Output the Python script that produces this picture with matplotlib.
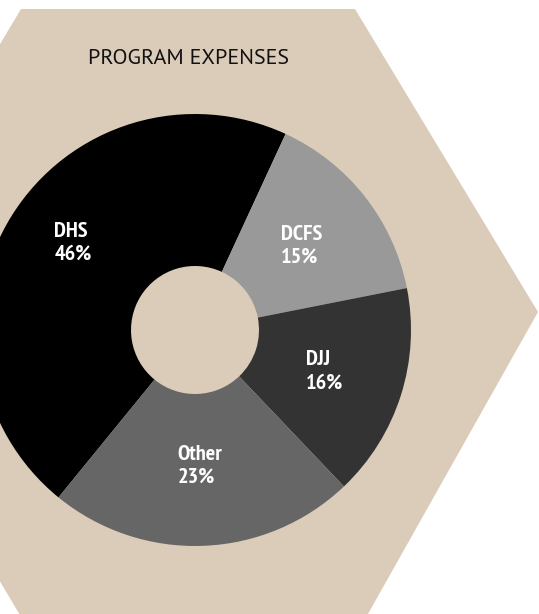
import matplotlib
matplotlib.use("Agg")
import matplotlib.pyplot as plt
import numpy as np
from matplotlib.patches import Polygon

# Share of program expenses by department
departments = ["DHS", "DCFS", "DJJ", "Other"]
shares = [46, 15, 16, 23]
wedge_colors = ["#000000", "#999999", "#333333", "#666666"]
title = "PROGRAM EXPENSES"

tan = "#dbccb9"
width_px, height_px = 539, 614

fig = plt.figure(figsize=(width_px / 100, height_px / 100), dpi=100)
ax = fig.add_axes([0, 0, 1, 1])


def flip(points):
    """Pixel rows count downwards; the axes count upwards."""
    return [(x, height_px - y) for x, y in points]


# Hexagon backdrop, running off the left and bottom edges
hexagon = Polygon(
    flip([(538, 312), (355, 9), (21, 9), (-160, 312), (33, 637), (355, 637)]),
    closed=True,
    facecolor=tan,
    edgecolor="none",
    zorder=0,
)
ax.add_patch(hexagon)

center = (195, height_px - 330)
outer_r, inner_r = 216, 64
wedges, _ = ax.pie(
    shares,
    colors=wedge_colors,
    startangle=230.8,
    counterclock=False,
    center=center,
    radius=outer_r,
    wedgeprops={"width": outer_r - inner_r, "edgecolor": "none"},
    frame=True,
)
ax.set_xlim(0, width_px)
ax.set_ylim(0, height_px)
ax.set_aspect("equal")
ax.axis("off")

label_radius = {"DHS": 150}
label_shift = {"DHS": -3.5}
for wedge, name, share in zip(wedges, departments, shares):
    mid = np.deg2rad((wedge.theta1 + wedge.theta2) / 2 + label_shift.get(name, 0))
    r = label_radius.get(name, 136)
    x = center[0] + r * np.cos(mid)
    y = center[1] + r * np.sin(mid)
    ax.text(
        x, y, f"{name}\n{share}%",
        ha="center", va="center", multialignment="left",
        color="white", fontsize=16, fontweight="bold",
        family="PT Sans Narrow", linespacing=1.3,
    )

ax.text(189, height_px - 58, title, ha="center", va="center",
        fontsize=15.8, family="PT Sans", fontweight="normal", color="#111111")

fig.savefig("out.png", dpi=100, facecolor="white")
